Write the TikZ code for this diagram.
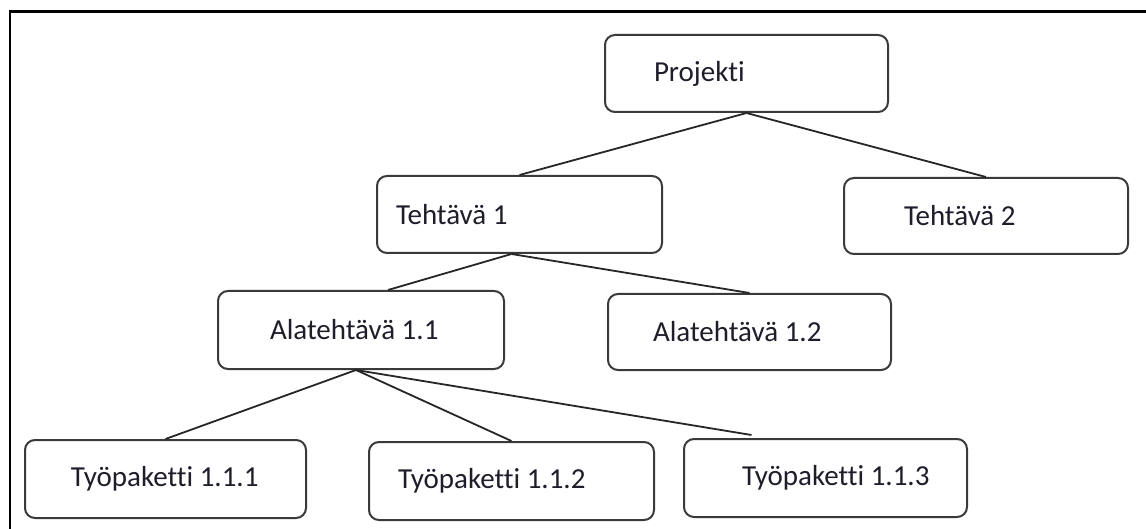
\documentclass[tikz,border=0pt]{standalone}
\usepackage{fontspec}
\setmainfont{Carlito}[Ligatures=CommonOff]
\usetikzlibrary{calc}
\definecolor{boxline}{HTML}{3A3A3A}
\definecolor{txt}{HTML}{1E1E2A}
\tikzset{
  wbs/.style={draw=boxline, line width=1pt, rounded corners=5pt, fill=white,
    inner xsep=0pt, inner ysep=0pt, anchor=north west, font=\fontsize{14.5}{16}\selectfont,
    text=txt},
  link/.style={draw=black!85, line width=0.9pt},
  frame/.style={draw=black, line width=1.1pt}
}
% #1 width (px), #2 height (px), #3 left pad (px), #4 vertical raise (px), #5 text
\newcommand{\wbsbox}[5]{\parbox[c][#2\dimexpr0.5pt\relax][c]{#1\dimexpr0.5pt\relax}{\hspace*{#3\dimexpr0.5pt\relax}\raisebox{#4\dimexpr0.5pt\relax}{#5}}}
\begin{document}
\begin{tikzpicture}[x=0.5pt, y=-0.5pt]
\useasboundingbox (0,0) rectangle (1146,529);
\draw[frame] (10,529) -- (10,11.5) -- (1146,11.5);

\node[wbs] (proj) at (604,34)  {\wbsbox{283}{77}{49}{0}{Projekti}};
\node[wbs] (t1)   at (376,175) {\wbsbox{285}{77}{19}{-4}{Tehtävä 1}};
\node[wbs] (t2)   at (843,177) {\wbsbox{284}{76}{60}{-2}{Tehtävä 2}};
\node[wbs] (a11)  at (217,290) {\wbsbox{286}{78}{52}{-2}{Alatehtävä 1.1}};
\node[wbs] (a12)  at (607,293) {\wbsbox{283}{76}{45}{0}{Alatehtävä 1.2}};
\node[wbs] (w1)   at (24,439)  {\wbsbox{281}{78}{46}{-2}{Työpaketti 1.1.1}};
\node[wbs] (w2)   at (368,441) {\wbsbox{285}{78}{29}{-2}{Työpaketti 1.1.2}};
\node[wbs] (w3)   at (683,438) {\wbsbox{283}{78}{58}{-2}{Työpaketti 1.1.3}};

\draw[link] (proj.south) -- (t1.north);
\draw[link] (proj.south) -- (t2.north);
\draw[link] ($(t1.south)+(-8,0)$) -- ($(a11.north)+(27,0)$);
\draw[link] ($(t1.south)+(-8,0)$) -- (a12.north);
\draw[link] ($(a11.south)+(-5,0)$) -- (w1.north);
\draw[link] ($(a11.south)+(-5,0)$) -- (w2.north);
\draw[link] ($(a11.south)+(-5,0)$) -- ($(w3.north)+(-74,-3)$);
\end{tikzpicture}
\end{document}
